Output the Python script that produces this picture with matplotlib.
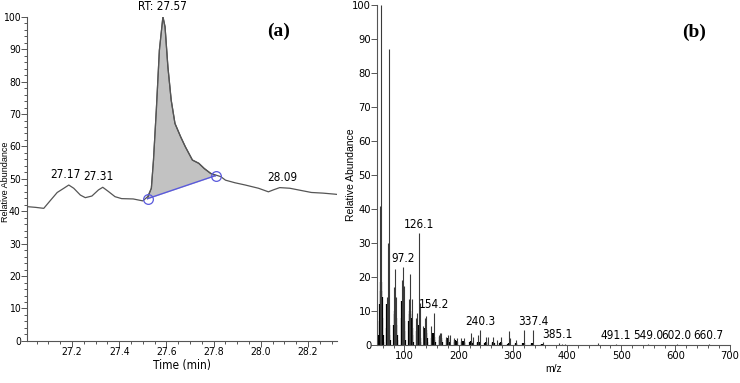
import matplotlib
matplotlib.use('Agg')
import matplotlib.pyplot as plt
import numpy as np
from matplotlib.ticker import MultipleLocator

# chromatogram trace (a)
t = [27.014, 27.046, 27.08, 27.11, 27.137, 27.165, 27.186, 27.207, 27.235, 27.256,
     27.284, 27.312, 27.33, 27.354, 27.382, 27.41, 27.459, 27.50, 27.52, 27.536,
     27.545, 27.557, 27.57, 27.585, 27.594, 27.606, 27.62, 27.636, 27.66, 27.68,
     27.71, 27.737, 27.76, 27.787, 27.808, 27.83, 27.85, 27.89, 27.934, 27.99,
     28.032, 28.053, 28.08, 28.123, 28.158, 28.214, 28.263, 28.31, 28.323]
ra = [41.4, 41.2, 40.9, 43.5, 45.8, 47.1, 48.1, 47.1, 45.0, 44.2,
      44.7, 46.6, 47.4, 46.1, 44.5, 43.9, 43.8, 43.2, 44.5, 47.1,
      55.8, 71.2, 89.7, 100.0, 96.9, 84.6, 74.3, 67.1, 63.0, 59.9,
      55.8, 54.8, 53.2, 51.7, 51.2, 50.7, 49.6, 48.8, 48.1, 47.1,
      46.0, 46.6, 47.3, 47.1, 46.6, 45.8, 45.6, 45.3, 45.2]
base_t = [27.52, 27.808]
base_y = [43.9, 51.0]
peak_lbl = ['27.17', '27.31', 'RT: 27.57', '28.09']
peak_t = [27.17, 27.31, 27.585, 28.09]
peak_y = [48.1, 47.4, 100.0, 47.3]

# mass spectrum (b): distinct lines
line_mz = [55, 57, 67, 69, 71, 81, 83, 85, 95, 97, 99, 109, 111, 113, 121, 123, 126, 128,
           135, 137, 139, 149, 154, 163, 165, 168, 177, 180, 184, 191, 196, 205, 210,
           222, 226, 236, 240, 250, 254, 264, 270, 278, 292, 295, 306, 320, 337, 355,
           385, 390, 396, 458, 491, 549, 602, 661]
line_ab = [41, 100, 14, 30, 87, 17, 22.5, 14, 19, 23, 17.5, 13.5, 21, 13.5, 8, 9.5, 33, 12.5,
           5.5, 8, 8.5, 5.5, 9.5, 3, 3.5, 3.5, 2.5, 3, 3, 2, 2, 2, 2,
           3.5, 2.5, 3, 4.5, 2.5, 2.5, 2.5, 1.5, 2.5, 4, 2, 1.5, 4.5, 4.5, 1,
           0.5, 0.4, 0.4, 0.5, 0.3, 0.2, 0.2, 0.2]
# mass spectrum (b): dense black clusters
fill_mz = [53, 54, 55, 56, 57, 58, 59, 60, 61,
           67, 68, 69, 70, 71, 72, 73,
           81, 82, 83, 84, 85, 86, 87,
           95, 96, 97, 98, 99, 100, 101,
           109, 110, 111, 112, 113, 114, 115,
           123, 124, 125, 126, 127, 128, 129,
           137, 138, 139, 140, 141, 142,
           151, 152, 153, 154, 155, 156,
           165, 166, 167, 168, 169,
           179, 180, 181, 182,
           193, 194, 195, 196,
           207, 208, 209, 210,
           221, 222, 223, 224,
           235, 236, 237, 238,
           249, 250, 251,
           263, 264, 265,
           277, 278, 279,
           291, 292, 293,
           305, 306, 319, 320, 335, 336, 353, 354]
fill_ab = [3, 7, 12, 16, 18.5, 14, 8, 3, 1,
           5, 12, 8, 7, 6, 3, 1.5,
           6, 10, 9, 8, 6, 3, 1.5,
           8, 13, 12, 10, 7, 4, 1.5,
           7, 10, 9, 8, 5, 3, 1,
           4, 6, 6, 5, 4, 2, 1,
           3, 5, 4.5, 3.5, 2, 1,
           2, 3.5, 3, 2.5, 1.5, 0.8,
           1.5, 2.5, 2, 1.5, 1,
           1.5, 2, 1.5, 1,
           1, 1.5, 1.2, 0.8,
           1, 1.3, 1, 0.6,
           0.8, 1.2, 1, 0.6,
           0.6, 1, 0.8, 0.5,
           0.6, 0.9, 0.7,
           0.5, 0.8, 0.6,
           0.5, 0.8, 0.5,
           0.4, 0.7, 0.4,
           0.4, 0.5, 0.6, 0.5, 0.5, 0.4, 0.4, 0.3]
ms_lbl = ['97.2', '126.1', '154.2', '240.3', '337.4', '385.1', '491.1', '549.0', '602.0', '660.7']
ms_lbl_mz = [97, 126, 154, 240, 337, 383, 489, 549, 602, 661]
ms_lbl_ab = [23, 33, 9.5, 4.5, 4.5, 0.5, 0.3, 0.2, 0.2, 0.2]

narrow = dict(family='DejaVu Sans', stretch='condensed', fontsize=8.5)
axcol = '#555555'

fig = plt.figure(figsize=(7.4, 3.83), dpi=100)
ax1 = fig.add_axes([0.0365, 0.110, 0.419, 0.846])
ax2 = fig.add_axes([0.510, 0.099, 0.476, 0.888])

def style(ax, fs):
    for s in ['top', 'right']:
        ax.spines[s].set_visible(False)
    for s in ['left', 'bottom']:
        ax.spines[s].set_color(axcol)
        ax.spines[s].set_linewidth(0.8)
    ax.tick_params(which='both', direction='out', colors=axcol, width=0.7)
    ax.tick_params(which='major', length=4, pad=0.5, labelcolor='black')
    ax.tick_params(which='minor', length=2.5)
    for lab in ax.get_xticklabels() + ax.get_yticklabels():
        lab.set_fontfamily('DejaVu Sans')
        lab.set_fontstretch('condensed')
        lab.set_fontsize(fs)

# (a) chromatogram
ax1.plot(t, ra, color='#555555', lw=0.9)
tt = np.array(t)
yy = np.array(ra)
m = (tt > base_t[0]) & (tt < base_t[1])
tin = np.concatenate([[base_t[0]], tt[m], [base_t[1]]])
yin = np.concatenate([[base_y[0]], yy[m], [base_y[1]]])
bl = np.interp(tin, base_t, base_y)
ax1.fill_between(tin, bl, yin, color='#c2c2c2', lw=0)
ax1.plot(tin, yin, color='#555555', lw=0.9)
ax1.plot(base_t, base_y, color='#5a5adc', lw=1.0)
ax1.plot(base_t, base_y, 'o', mfc='none', mec='#5a5adc', ms=7, mew=0.9)
for lb, x, y in zip(peak_lbl, peak_t, peak_y):
    ax1.text(x, y + 1.2, lb, ha='center', va='bottom', clip_on=False, **narrow)
ax1.set_xlim(27.009, 28.323)
ax1.set_ylim(0, 100)
ax1.xaxis.set_minor_locator(MultipleLocator(0.05))
ax1.yaxis.set_major_locator(MultipleLocator(10))
ax1.yaxis.set_minor_locator(MultipleLocator(2))
ax1.set_xticks([27.2, 27.4, 27.6, 27.8, 28.0, 28.2])
ax1.set_xticklabels(['27.2', '27.4', '27.6', '27.8', '28.0', '28.2'])
style(ax1, 7.5)
ax1.set_xlabel('Time (min)', labelpad=1, **narrow)
ax1.set_ylabel('Relative Abundance', fontsize=6.5, family='Liberation Sans')
ax1.yaxis.set_label_coords(-0.055, 0.49)
ax1.text(0.81, 0.954, '(a)', transform=ax1.transAxes, fontsize=14,
         family='Liberation Serif', fontweight='bold', ha='center', va='center')

# (b) mass spectrum
ax2.vlines(fill_mz, 0, fill_ab, color='black', lw=1.6)
ax2.vlines(line_mz, 0, line_ab, color='#3a3a3a', lw=0.8)
for lb, x, y in zip(ms_lbl, ms_lbl_mz, ms_lbl_ab):
    ax2.text(x, y + 0.6, lb, ha='center', va='bottom', **narrow)
ax2.set_xlim(50, 700)
ax2.set_ylim(0, 100)
ax2.xaxis.set_major_locator(MultipleLocator(100))
ax2.xaxis.set_minor_locator(MultipleLocator(20))
ax2.yaxis.set_major_locator(MultipleLocator(10))
style(ax2, 8)
ax2.set_xlabel('m/z', fontsize=7.5, family='Liberation Sans', labelpad=2)
ax2.set_ylabel('Relative Abundance', fontsize=7.5, family='Liberation Sans')
ax2.yaxis.set_label_coords(-0.062, 0.5)
ax2.text(0.899, 0.92, '(b)', transform=ax2.transAxes, fontsize=14,
         family='Liberation Serif', fontweight='bold', ha='center', va='center')

fig.savefig('out.png', dpi=100)
